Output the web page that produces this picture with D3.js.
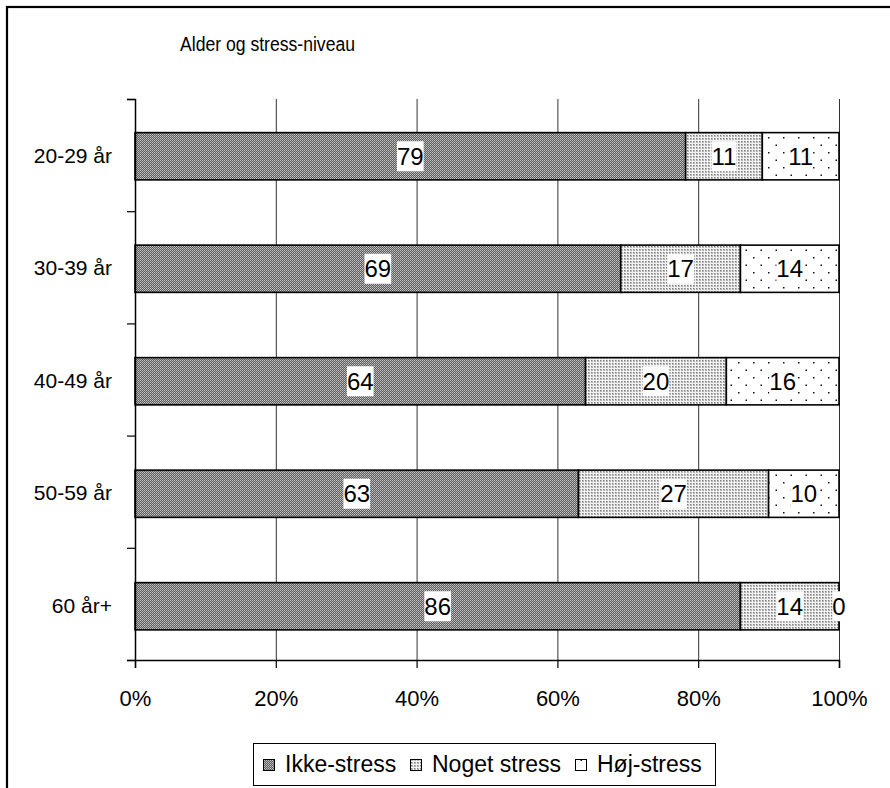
<!DOCTYPE html>
<html>
<head>
<meta charset="utf-8">
<script src="https://cdn.jsdelivr.net/npm/d3@7"></script>
<style>
  html, body { margin: 0; padding: 0; background: #fff; }
  svg { display: block; font-family: "Liberation Sans", Arial, sans-serif; }
</style>
</head>
<body>
<svg id="chart" width="890" height="788"></svg>
<script>
// Age groups and stress levels (answers per group)
const categories = ["20-29 år", "30-39 år", "40-49 år", "50-59 år", "60 år+"];
const seriesNames = ["Ikke-stress", "Noget stress", "Høj-stress"];
const ikkeStress  = [79, 69, 64, 63, 86];
const nogetStress = [11, 17, 20, 27, 14];
const hojStress   = [11, 14, 16, 10, 0];
const xTickValues = [0, 0.2, 0.4, 0.6, 0.8, 1.0];
const titleText = "Alder og stress-niveau";

const rows = categories.map((c, i) => ({
  cat: c,
  "Ikke-stress": ikkeStress[i],
  "Noget stress": nogetStress[i],
  "Høj-stress": hojStress[i]
}));

const svg = d3.select("#chart");

// Fill patterns for each series
const defs = svg.append("defs");
const pIkke = defs.append("pattern").attr("id", "p0")
  .attr("patternUnits", "userSpaceOnUse").attr("width", 2).attr("height", 2);
pIkke.append("rect").attr("width", 2).attr("height", 2).attr("fill", "#5c5c5c");
pIkke.append("rect").attr("x", 0).attr("y", 0).attr("width", 1).attr("height", 1).attr("fill", "#c8c8c8");
pIkke.append("rect").attr("x", 1).attr("y", 1).attr("width", 1).attr("height", 1).attr("fill", "#a8a8a8");

// dotted light grey: grey dots on a 3px grid
const pNoget = defs.append("pattern").attr("id", "p1")
  .attr("patternUnits", "userSpaceOnUse").attr("width", 3).attr("height", 3);
pNoget.append("rect").attr("width", 3).attr("height", 3).attr("fill", "#f2f2f2");
pNoget.append("rect").attr("x", 0).attr("y", 0).attr("width", 2).attr("height", 2).attr("fill", "#b4b4b4");
pNoget.append("rect").attr("x", 0).attr("y", 0).attr("width", 1).attr("height", 1).attr("fill", "#808080");

const pHoj = defs.append("pattern").attr("id", "p2")
  .attr("patternUnits", "userSpaceOnUse").attr("width", 15).attr("height", 15);
pHoj.append("rect").attr("width", 15).attr("height", 15).attr("fill", "#ffffff");
pHoj.append("rect").attr("x", 3).attr("y", 2).attr("width", 1.5).attr("height", 1.5).attr("fill", "#111");
pHoj.append("rect").attr("x", 10.5).attr("y", 9.5).attr("width", 1.5).attr("height", 1.5).attr("fill", "#111");

const fills = ["url(#p0)", "url(#p1)", "url(#p2)"];

// Outer chart frame
svg.append("rect")
  .attr("x", 7).attr("y", 7).attr("width", 900).attr("height", 800)
  .attr("fill", "none").attr("stroke", "#000").attr("stroke-width", 2.2);

// Scales
const x = d3.scaleLinear().domain([0, 1]).range([135, 839]);
const y = d3.scaleBand().domain(categories).range([100, 662.5])
  .paddingInner(0.58).paddingOuter(0.29);
const yEdges = d3.scaleLinear().domain([0, categories.length]).range([99, 660]);

// Vertical gridlines
svg.append("g")
  .attr("transform", "translate(0,660)")
  .call(d3.axisBottom(x).tickValues(xTickValues.slice(1)).tickSize(-561).tickFormat(""))
  .call(g => g.select(".domain").remove())
  .call(g => g.selectAll(".tick line").attr("stroke", "#333").attr("stroke-width", 1));

// Stacked 100% bars
const stack = d3.stack().keys(seriesNames).offset(d3.stackOffsetExpand);
const layers = stack(rows);

const layerG = svg.append("g").selectAll("g").data(layers).join("g")
  .attr("fill", (d, i) => fills[i]);
layerG.selectAll("rect").data(d => d).join("rect")
  .attr("x", d => x(d[0]))
  .attr("y", d => y(d.data.cat))
  .attr("width", d => x(d[1]) - x(d[0]))
  .attr("height", y.bandwidth())
  .attr("stroke", "#000").attr("stroke-width", 1.6);

// Value labels on white boxes
const labelG = svg.append("g");
layers.forEach((layer, li) => {
  layer.forEach(d => {
    const value = d.data[seriesNames[li]];
    const cx = (x(d[0]) + x(d[1])) / 2;
    const cy = y(d.data.cat) + y.bandwidth() / 2;
    const g = labelG.append("g");
    const t = g.append("text")
      .attr("x", cx).attr("y", cy + 8.5)
      .attr("text-anchor", "middle")
      .attr("font-size", 24).attr("fill", "#000")
      .text(value);
    const bb = t.node().getBBox();
    g.insert("rect", "text")
      .attr("x", bb.x).attr("y", cy - 15)
      .attr("width", bb.width).attr("height", 30)
      .attr("fill", "#fff");
  });
});

// Y axis: line with ticks at band edges
svg.append("g")
  .attr("transform", "translate(135,0)")
  .call(d3.axisLeft(yEdges).tickValues(d3.range(categories.length + 1)).tickSize(8).tickFormat(""))
  .call(g => g.select(".domain").attr("stroke", "#000").attr("stroke-width", 1.5))
  .call(g => g.selectAll(".tick line").attr("stroke", "#000").attr("stroke-width", 1.2));

// Y category labels
svg.append("g")
  .attr("transform", "translate(135,0)")
  .call(d3.axisLeft(y).tickSize(0).tickPadding(23))
  .call(g => g.select(".domain").remove())
  .call(g => g.selectAll("text").attr("font-size", 21).attr("fill", "#000")
    .attr("font-family", "'Liberation Sans', Arial, sans-serif"));

// X axis
svg.append("g")
  .attr("transform", "translate(0,660)")
  .call(d3.axisBottom(x).tickValues(xTickValues).tickSize(8).tickPadding(22)
    .tickFormat(d3.format(".0%")))
  .call(g => g.select(".domain").attr("stroke", "#000").attr("stroke-width", 1.5))
  .call(g => g.selectAll(".tick line").attr("stroke", "#000").attr("stroke-width", 1.2))
  .call(g => g.selectAll("text").attr("font-size", 22).attr("fill", "#000")
    .attr("font-family", "'Liberation Sans', Arial, sans-serif"));

// Title
svg.append("text")
  .attr("x", 180).attr("y", 51)
  .attr("font-size", 20)
  .attr("textLength", 175).attr("lengthAdjust", "spacingAndGlyphs")
  .text(titleText);

// Legend
const legend = svg.append("g");
legend.append("rect")
  .attr("x", 253.5).attr("y", 743.5).attr("width", 462).attr("height", 42)
  .attr("fill", "#fff").attr("stroke", "#000").attr("stroke-width", 1);
const legendX = [263, 410, 575];
seriesNames.forEach((name, i) => {
  legend.append("rect")
    .attr("x", legendX[i] + 0.5).attr("y", 759.5).attr("width", 11).attr("height", 11)
    .attr("fill", fills[i]).attr("stroke", "#000").attr("stroke-width", 1);
  legend.append("text")
    .attr("x", legendX[i] + 22).attr("y", 772)
    .attr("font-size", 23)
    .text(name);
});
</script>
</body>
</html>
